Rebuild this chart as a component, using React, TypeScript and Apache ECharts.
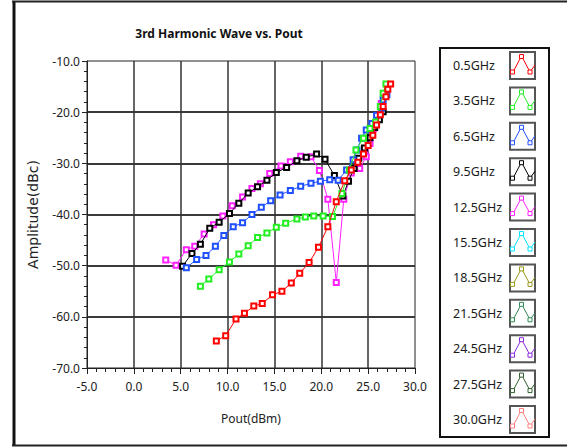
import React, { useEffect, useRef } from "react";
import * as echarts from "echarts";

const xTicks = [-5, 0, 5, 10, 15, 20, 25, 30];
const yTicks = [-70, -60, -50, -40, -30, -20, -10];

const legendLabels = ["0.5GHz", "3.5GHz", "6.5GHz", "9.5GHz", "12.5GHz", "15.5GHz", "18.5GHz", "21.5GHz", "24.5GHz", "27.5GHz", "30.0GHz"];
const legendColors = ["#ff0000", "#22ee22", "#1f4fff", "#000000", "#ff22ff", "#00e5ff", "#9a9a1a", "#2e8b57", "#8a2be2", "#2f5f2f", "#ff8080"];

const redX = [8.8, 9.8, 10.9, 11.8, 12.8, 13.7, 14.8, 15.8, 16.8, 17.7, 18.7, 19.7, 20.7, 21.6, 22.5, 23.2, 23.9, 24.5, 25.0, 25.5, 25.9, 26.3, 26.6, 26.9, 27.1, 27.4];
const redY = [-64.7, -63.7, -60.4, -59.3, -57.9, -57.4, -55.7, -55.0, -53.4, -51.5, -49.4, -46.4, -42.4, -37.5, -33.4, -31.3, -29.8, -28.2, -26.5, -24.5, -22.5, -20.5, -18.9, -17.0, -15.5, -14.5];

const greenX = [7.1, 8.0, 9.1, 10.2, 11.2, 12.2, 13.2, 14.2, 15.2, 16.2, 17.4, 18.3, 19.2, 20.2, 21.2, 22.2, 23.0, 23.7, 24.5, 25.2, 25.8, 26.3, 26.6, 26.9];
const greenY = [-54.0, -52.6, -50.8, -49.3, -47.7, -46.1, -44.5, -43.6, -42.5, -41.7, -40.9, -40.5, -40.3, -40.3, -40.4, -35.9, -31.3, -27.4, -25.1, -23.2, -21.9, -18.9, -16.3, -14.5];

const blueX = [5.6, 6.7, 7.7, 8.7, 9.6, 10.6, 11.6, 12.6, 13.6, 14.6, 15.6, 16.7, 17.8, 18.9, 19.9, 20.9, 21.8, 22.7, 23.4, 23.8, 24.3, 24.8, 25.4, 25.9, 26.4, 26.6, 27.0];
const blueY = [-50.4, -48.8, -48.0, -46.2, -44.1, -42.4, -41.6, -40.0, -38.6, -37.3, -36.2, -35.3, -34.5, -33.9, -33.5, -33.2, -33.3, -31.3, -29.3, -27.4, -25.1, -23.5, -22.2, -20.6, -19.3, -17.6, -16.6];

const blackX = [5.2, 6.2, 7.1, 8.1, 9.1, 10.2, 11.2, 12.2, 13.2, 14.2, 15.2, 16.3, 17.4, 18.4, 19.5, 20.4, 21.4, 22.3, 22.9, 23.5, 24.0, 24.6, 25.2, 25.7, 26.2, 26.6];
const blackY = [-50.1, -47.6, -45.8, -42.7, -41.5, -39.8, -37.8, -35.8, -34.6, -33.3, -31.8, -30.8, -29.5, -28.8, -28.2, -29.2, -32.4, -36.4, -33.5, -31.0, -29.0, -27.0, -25.0, -23.0, -21.5, -19.9];

const magentaX = [3.4, 4.5, 5.6, 6.5, 7.5, 8.5, 9.5, 10.5, 11.6, 12.6, 13.5, 14.5, 15.7, 16.7, 17.8, 18.9, 19.8, 20.7, 21.6, 22.4, 23.2, 24.1, 24.8, 25.2, 25.6, 26.1, 26.4];
const magentaY = [-48.9, -49.9, -46.9, -46.2, -43.8, -42.0, -40.3, -38.3, -36.6, -34.9, -34.0, -32.0, -30.5, -29.7, -28.6, -28.7, -31.4, -37.0, -53.3, -37.0, -31.9, -31.0, -28.7, -26.1, -23.2, -21.2, -18.3];

const seriesX = [redX, greenX, blueX, blackX, magentaX];
const seriesY = [redY, greenY, blueY, blackY, magentaY];

const FONT = "Noto Sans";

export default function App() {
  const ref = useRef<HTMLDivElement>(null);
  useEffect(() => {
    if (!ref.current) return;
    const chart = echarts.init(ref.current, null, { renderer: "svg" });

    const series: any[] = legendLabels.map((name, i) => ({
      name,
      type: "line",
      data: i < seriesX.length ? seriesX[i].map((x, k) => [x, seriesY[i][k]]) : [],
      symbol: "emptyRect",
      symbolSize: 5,
      lineStyle: { color: legendColors[i], width: 1 },
      itemStyle: { color: legendColors[i], borderColor: legendColors[i], borderWidth: 1 },
      z: 10 - i,
    }));

    const graphic: any[] = [];
    graphic.push({ type: "line", shape: { x1: 14, y1: 1, x2: 14, y2: 446 }, style: { stroke: "#111", lineWidth: 3 } });
    graphic.push({ type: "line", shape: { x1: 12, y1: 1.5, x2: 567, y2: 1.5 }, style: { stroke: "#222", lineWidth: 2 } });
    graphic.push({ type: "line", shape: { x1: 12, y1: 445.5, x2: 567, y2: 445.5 }, style: { stroke: "#222", lineWidth: 2 } });
    graphic.push({ type: "rect", shape: { x: 440, y: 48, width: 109, height: 389 }, style: { fill: "#fff", stroke: "#111", lineWidth: 2 } });
    legendLabels.forEach((label, i) => {
      const y0 = 52 + i * 35.4;
      const c = legendColors[i];
      graphic.push({
        type: "text",
        x: 453,
        y: y0 + 13.5,
        style: { text: label, fontFamily: FONT, fontSize: 12.5, fill: "#1a1a1a", textVerticalAlign: "middle" },
      });
      graphic.push({ type: "rect", shape: { x: 510, y: y0, width: 25, height: 27 }, style: { fill: "#fff", stroke: "#555", lineWidth: 2 } });
      graphic.push({
        type: "polyline",
        shape: { points: [[512.5, y0 + 21], [521.5, y0 + 4], [530, y0 + 20], [535, y0 + 13]] },
        style: { stroke: c, lineWidth: 1, fill: null },
      });
      [[512.5, y0 + 20], [521.5, y0 + 4.5], [530, y0 + 20]].forEach(([px, py]) => {
        graphic.push({ type: "rect", shape: { x: px - 2, y: py - 2, width: 4, height: 4 }, style: { fill: "#fff", stroke: c, lineWidth: 1 } });
      });
    });

    chart.setOption({
      animation: false,
      backgroundColor: "#ffffff",
      title: {
        text: "3rd Harmonic Wave vs. Pout",
        left: 214,
        top: 22,
        textAlign: "center",
        textStyle: { fontFamily: FONT, fontSize: 12, fontWeight: "bold", color: "#111" },
      },
      grid: { left: 87, top: 61, right: 152, bottom: 79, show: true, borderColor: "#222", borderWidth: 1, backgroundColor: "transparent" },
      xAxis: {
        type: "value",
        min: xTicks[0],
        max: xTicks[xTicks.length - 1],
        interval: 5,
        name: "Pout(dBm)",
        nameLocation: "middle",
        nameGap: 44,
        nameTextStyle: { fontFamily: FONT, fontSize: 12, color: "#222" },
        axisLine: { show: true, onZero: false, lineStyle: { color: "#222", width: 1 } },
        axisTick: { show: true, length: 6, lineStyle: { color: "#222" } },
        minorTick: { show: true, splitNumber: 5, length: 4, lineStyle: { color: "#222" } },
        axisLabel: { fontFamily: FONT, fontSize: 12, color: "#222", margin: 12, formatter: (v: number) => v.toFixed(1) },
        splitLine: { show: true, showMinLine: false, showMaxLine: false, lineStyle: { color: "#333", width: 1.5 } },
      },
      yAxis: {
        type: "value",
        min: yTicks[0],
        max: yTicks[yTicks.length - 1],
        interval: 10,
        name: "Amplitude(dBc)",
        nameLocation: "middle",
        nameGap: 47,
        nameRotate: 90,
        nameTextStyle: { fontFamily: "DejaVu Sans", fontSize: 14, color: "#222" },
        axisLine: { show: true, onZero: false, lineStyle: { color: "#222", width: 1 } },
        axisTick: { show: true, length: 5, lineStyle: { color: "#222" } },
        minorTick: { show: true, splitNumber: 5, length: 3, lineStyle: { color: "#222" } },
        axisLabel: { fontFamily: FONT, fontSize: 12, color: "#222", margin: 7, formatter: (v: number) => v.toFixed(1) },
        splitLine: { show: true, showMinLine: false, showMaxLine: false, lineStyle: { color: "#3a3a3a", width: 2 } },
      },
      series,
      graphic,
    });
    return () => chart.dispose();
  }, []);
  return <div ref={ref} style={{ position: "absolute", left: 0, top: 0, width: 567, height: 447 }} />;
}
